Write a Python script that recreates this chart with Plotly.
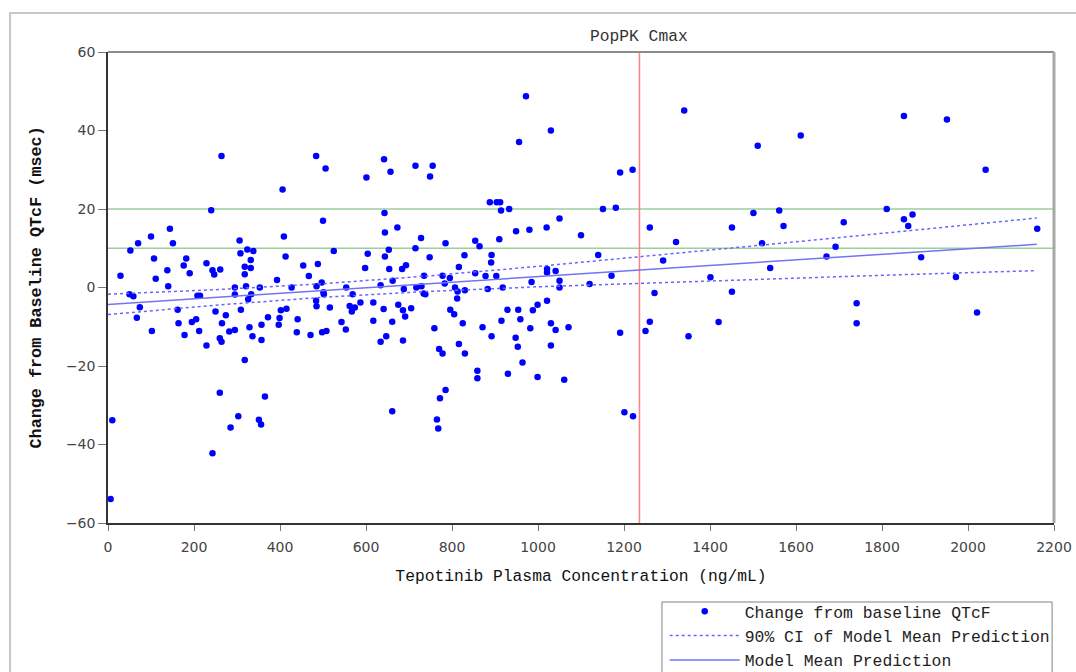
import plotly.graph_objects as go

# ---- data ----
conc = [264, 406, 240, 144, 100, 409, 70, 151, 306, 52, 324, 338, 308, 413, 107, 182, 332, 229, 176, 318,
        332, 138, 243, 261, 247, 190, 318, 29, 393, 111, 140, 295, 321, 353, 427, 50, 59, 208, 214, 295,
        333, 326, 74, 162, 250, 309, 402, 415, 67, 274, 372, 205, 195, 164, 265, 399, 397, 357, 329, 102,
        212, 282, 295, 178, 336, 260, 264, 357, 229, 318, 260, 365, 10, 303, 285, 351, 356, 243, 6,
        484, 506, 642, 657, 601, 715, 755, 749, 888, 500, 643, 673, 644, 728, 785, 854, 864, 525, 653, 715,
        604, 644, 748, 829, 454, 488, 598, 654, 684, 693, 816, 467, 497, 485, 662, 735, 778, 795, 854, 878,
        554, 634, 688, 717, 729, 783, 807, 813, 830, 883, 501, 502, 569, 734, 738, 812, 484, 485, 516, 562,
        567, 574, 587, 617, 641, 675, 686, 705, 691, 796, 805, 441, 543, 617, 661, 825, 439, 471, 498, 508,
        553, 634, 647, 686, 759, 816, 830, 871, 770, 778, 859, 859, 785, 772, 661, 765, 768,
        972, 1340, 1030, 956, 1191, 1220, 904, 912, 914, 933, 1151, 1181, 1050, 949, 980, 1020, 910, 1100,
        1260, 1321, 892, 891, 1140, 1291, 903, 1021, 1021, 1041, 1171, 985, 1050, 918, 1050, 1120, 1271,
        1021, 999, 929, 954, 988, 915, 959, 1030, 1041, 1071, 982, 1260, 1250, 1191, 892, 948, 953, 1030,
        964, 930, 999, 1061, 1201, 1221,
        1511, 1611, 1501, 1561, 1451, 1571, 1711, 1521, 1692, 1671, 1540, 1401, 1451, 1741, 1741, 1420, 1350,
        1851, 1951, 2041, 1811, 1871, 1851, 1861, 2161, 1891, 1972, 2021]

dqtcf = [33.5, 25.0, 19.7, 15.0, 13.0, 13.0, 11.3, 11.3, 12.0, 9.4, 9.7, 9.3, 8.7, 7.9, 7.4, 7.4, 7.0, 6.2, 5.6, 5.3,
         5.0, 4.4, 4.4, 4.6, 3.3, 3.6, 3.4, 3.0, 1.9, 2.2, 0.3, 0.0, 0.3, 0.0, 0.0, -1.7, -2.2, -2.1, -2.1, -1.8,
         -1.7, -3.0, -5.0, -5.7, -6.1, -5.7, -5.8, -5.4, -7.7, -7.1, -7.6, -8.1, -8.8, -9.1, -9.1, -7.8, -9.5, -9.5, -10.1, -11.1,
         -11.1, -11.2, -10.8, -12.1, -12.4, -12.9, -13.8, -13.4, -14.8, -18.5, -26.8, -27.8, -33.8, -32.8, -35.7, -33.7, -34.9, -42.2, -53.9,
         33.5, 30.3, 32.7, 29.5, 28.0, 31.0, 31.0, 28.3, 21.7, 17.0, 19.0, 15.3, 14.0, 12.6, 11.3, 11.9, 10.5, 9.3, 9.6, 10.0,
         8.6, 7.9, 7.7, 8.2, 5.6, 6.0, 5.0, 4.7, 4.7, 5.7, 5.2, 2.9, 1.3, 0.3, 1.7, 3.0, 3.0, 2.4, 3.6, 2.9,
         0.0, 0.6, -0.4, 0.0, 0.3, 1.0, 0.0, -1.0, -0.7, -0.4, -1.2, -1.7, -1.7, -1.5, -1.7, -2.8, -3.4, -4.8, -5.1, -4.7,
         -6.1, -5.1, -3.8, -3.8, -5.5, -4.4, -5.8, -5.3, -7.4, -5.7, -6.8, -8.1, -8.8, -8.5, -8.7, -9.1, -11.4, -12.1, -11.4, -11.1,
         -10.7, -13.8, -12.4, -13.5, -10.4, -14.4, -16.8, -10.1, -15.7, -16.8, -21.2, -23.1, -26.1, -28.2, -31.5, -33.6, -35.9,
         48.7, 45.1, 40.0, 37.1, 29.3, 30.0, 21.7, 21.7, 19.6, 20.0, 20.0, 20.3, 17.6, 14.3, 14.7, 15.3, 12.3, 13.3,
         15.3, 11.6, 8.3, 6.4, 8.3, 6.9, 2.9, 4.7, 3.8, 4.2, 3.0, 1.4, 1.7, 0.0, 0.0, 0.9, -1.4,
         -3.4, -4.4, -5.7, -5.7, -5.8, -8.5, -8.1, -9.1, -10.8, -10.1, -10.4, -8.7, -11.1, -11.5, -12.4, -12.8, -15.1, -14.8,
         -19.1, -22.0, -22.8, -23.5, -31.8, -32.8,
         36.1, 38.7, 19.0, 19.6, 15.3, 15.7, 16.6, 11.3, 10.4, 7.9, 5.0, 2.6, -1.1, -4.0, -9.1, -8.8, -12.4,
         43.7, 42.8, 30.0, 20.0, 18.6, 17.4, 15.7, 15.0, 7.7, 2.7, -6.4]

pred_x = [0, 250, 500, 750, 1000, 1250, 1500, 1750, 2000, 2160]
pred_mean = [-4.3, -2.53, -0.76, 1.01, 2.78, 4.55, 6.32, 8.09, 9.86, 11.0]
pred_upper = [-1.7, -0.55, 0.97, 2.99, 5.38, 7.94, 10.58, 13.25, 15.94, 17.7]
pred_lower = [-6.9, -4.51, -2.49, -0.97, 0.18, 1.16, 2.06, 2.93, 3.78, 4.3]

ref_lines = [10, 20]
cmax = 1236
cmax_label = "PopPK Cmax"

x_title = "Tepotinib Plasma Concentration (ng/mL)"
y_title = "Change from Baseline QTcF (msec)"

mono = "Liberation Mono, Courier New, monospace"

fig = go.Figure()

fig.add_trace(go.Scatter(
    x=conc, y=dqtcf, mode="markers", name="Change from baseline QTcF",
    marker=dict(color="#0000FF", size=6.5, line=dict(width=0)),
))
fig.add_trace(go.Scatter(
    x=pred_x, y=pred_upper, mode="lines", name="90% CI of Model Mean Prediction",
    line=dict(color="#6666FF", width=1.5, dash="dot"),
))
fig.add_trace(go.Scatter(
    x=pred_x, y=pred_lower, mode="lines", showlegend=False,
    line=dict(color="#6666FF", width=1.5, dash="dot"),
))
fig.add_trace(go.Scatter(
    x=pred_x, y=pred_mean, mode="lines", name="Model Mean Prediction",
    line=dict(color="#7373F5", width=1.5),
))

for r in ref_lines:
    fig.add_hline(y=r, line=dict(color="#9ccf9c", width=1.5), layer="below")
fig.add_vline(x=cmax, line=dict(color="#ff8080", width=1.5), layer="below")

fig.add_annotation(x=cmax, xref="x", y=1.032, yref="paper", text=cmax_label,
                   showarrow=False, font=dict(family=mono, size=16.3, color="#333333"),
                   xanchor="center", yanchor="middle")

# y-axis title placed as rotated text
fig.add_annotation(x=-0.0761, xref="paper", y=0.5, yref="paper", text="<b>" + y_title + "</b>",
                   textangle=-90, showarrow=False,
                   font=dict(family=mono, size=16.8, color="#111111"),
                   xanchor="center", yanchor="middle")

# top and right borders of plot area (gray)
fig.add_shape(type="line", xref="paper", yref="paper", x0=0, x1=1, y0=1, y1=1,
              line=dict(color="#8c8c8c", width=2))
fig.add_shape(type="line", xref="paper", yref="paper", x0=1, x1=1, y0=0, y1=1,
              line=dict(color="#a8a8a8", width=3))
# outer frame
fig.add_shape(type="rect", xref="paper", yref="paper", x0=-0.1036, x1=1.2, y0=-0.5, y1=1.0828,
              line=dict(color="#c8c8c8", width=2), layer="below")
# legend frame
fig.add_shape(type="rect", xref="paper", yref="paper", x0=0.5856, x1=0.998, y0=-0.36, y1=-0.1677,
              line=dict(color="#808080", width=1))

fig.update_layout(
    width=1076, height=672,
    margin=dict(l=108, r=22, t=52, b=149, autoexpand=False),
    paper_bgcolor="white", plot_bgcolor="white",
    showlegend=True,
    legend=dict(
        x=0.5885, y=-0.151, xanchor="left", yanchor="top",
        borderwidth=0, bgcolor="rgba(0,0,0,0)",
        font=dict(family=mono, size=16.4, color="#222222"),
        itemwidth=70, tracegroupgap=0,
    ),
    xaxis=dict(
        range=[0, 2200], tickmode="linear", tick0=0, dtick=200,
        showgrid=False, zeroline=False, showline=True, linecolor="#333333", linewidth=1.5,
        ticks="outside", ticklen=6, tickcolor="#777777", ticklabelstandoff=4,
        tickfont=dict(family="DejaVu Sans, Verdana", size=14, color="#444444"),
        title=dict(text=x_title, font=dict(family=mono, size=16.3, color="#111111"), standoff=16),
    ),
    yaxis=dict(
        range=[-60, 60], tickmode="linear", tick0=-60, dtick=20,
        showgrid=False, zeroline=False, showline=True, linecolor="#333333", linewidth=1.5,
        ticks="outside", ticklen=8, tickcolor="#777777",
        tickfont=dict(family="DejaVu Sans, Verdana", size=14, color="#444444"),
    ),
)

fig.write_html("out.html")
